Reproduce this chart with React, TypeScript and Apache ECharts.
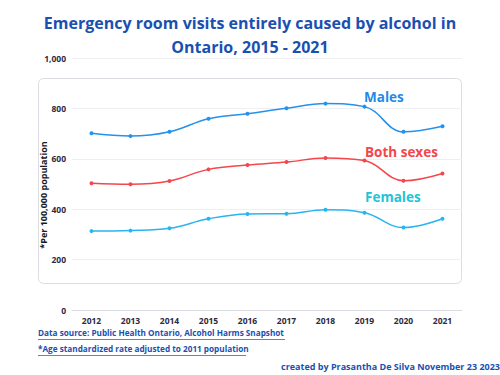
import React, { useEffect, useRef } from "react";
import * as echarts from "echarts";

const years = ["2012", "2013", "2014", "2015", "2016", "2017", "2018", "2019", "2020", "2021"];
const males = [701, 690, 707, 759, 779, 801, 819, 807, 707, 729];
const bothSexes = [503, 499, 512, 558, 575, 587, 603, 593, 513, 542];
const females = [313, 315, 324, 362, 381, 382, 398, 386, 327, 362];

const FONT = "Open Sans";
const TITLE_BLUE = "#1a50b0";

export default function App() {
  const ref = useRef<HTMLDivElement>(null);
  useEffect(() => {
    if (!ref.current) return;
    const chart = echarts.init(ref.current, null, { renderer: "svg" });
    const mk = (name: string, data: number[], color: string) => ({
      name,
      type: "line",
      data,
      smooth: 0.4,
      symbol: "circle",
      symbolSize: 4,
      lineStyle: { color, width: 1.5 },
      itemStyle: { color },
    });
    chart.setOption({
      animation: false,
      textStyle: { fontFamily: FONT },
      title: {
        text: "Emergency room visits entirely caused by alcohol in\nOntario, 2015 - 2021",
        left: "center",
        top: 6,
        textStyle: {
          fontFamily: FONT,
          fontWeight: 700,
          fontSize: 16,
          lineHeight: 24,
          color: TITLE_BLUE,
        },
      },
      grid: { left: 72, right: 38, top: 58, bottom: 65 },
      xAxis: {
        type: "category",
        data: years,
        axisLine: { lineStyle: { color: "#dcdce4" } },
        axisTick: { show: false },
        axisLabel: { color: "#2d2a3e", fontSize: 8.5, fontWeight: 700, margin: 6, fontFamily: FONT },
      },
      yAxis: {
        type: "value",
        min: 0,
        max: 1000,
        interval: 200,
        splitLine: { lineStyle: { color: "#efeff3" } },
        axisLabel: {
          color: "#2d2a3e",
          fontSize: 8.5,
          fontWeight: 700,
          margin: 6,
          fontFamily: FONT,
          formatter: (v: number) => v.toLocaleString("en-US"),
        },
      },
      series: [
        mk("Males", males, "#2491ea"),
        mk("Both sexes", bothSexes, "#f5464b"),
        mk("Females", females, "#28b4f0"),
      ],
      graphic: [
        {
          type: "rect",
          shape: { x: 38.5, y: 78.5, width: 423, height: 205, r: 5 },
          style: { fill: "none", stroke: "#dcdce2", lineWidth: 1 },
          silent: true,
          z: -1,
        },
        {
          type: "text",
          x: 43,
          y: 195,
          rotation: Math.PI / 2,
          style: {
            text: "*Per 100,000 population",
            fill: "#1a1a24",
            font: `700 9px "${FONT}"`,
            align: "center",
            verticalAlign: "middle",
          },
        },
        {
          type: "text",
          x: 364,
          y: 90,
          style: { text: "Males", fill: "#1f8ae8", font: `700 13.5px "${FONT}"` },
        },
        {
          type: "text",
          x: 365,
          y: 145,
          style: { text: "Both sexes", fill: "#f5464b", font: `700 13.5px "${FONT}"` },
        },
        {
          type: "text",
          x: 365,
          y: 190,
          style: { text: "Females", fill: "#22c4d8", font: `700 13.5px "${FONT}"` },
        },
        {
          type: "text",
          x: 38,
          y: 328,
          style: { text: "Data source: Public Health Ontario, Alcohol Harms Snapshot", fill: TITLE_BLUE, font: `700 8.2px "${FONT}"` },
        },
        {
          type: "line",
          shape: { x1: 38, y1: 339.5, x2: 285, y2: 339.5 },
          style: { stroke: TITLE_BLUE, lineWidth: 0.7 },
        },
        {
          type: "text",
          x: 38,
          y: 344,
          style: { text: "*Age standardized rate adjusted to 2011 population", fill: TITLE_BLUE, font: `700 8.2px "${FONT}"` },
        },
        {
          type: "line",
          shape: { x1: 38, y1: 355.5, x2: 246, y2: 355.5 },
          style: { stroke: TITLE_BLUE, lineWidth: 0.7 },
        },
        {
          type: "text",
          right: 0,
          y: 362,
          style: { text: "created by Prasantha De Silva November 23 2023", fill: TITLE_BLUE, font: `700 9px "${FONT}"` },
        },
      ],
    });
    return () => chart.dispose();
  }, []);
  return <div ref={ref} style={{ width: 500, height: 375, position: "absolute", left: 0, top: 0, background: "#fff" }} />;
}
